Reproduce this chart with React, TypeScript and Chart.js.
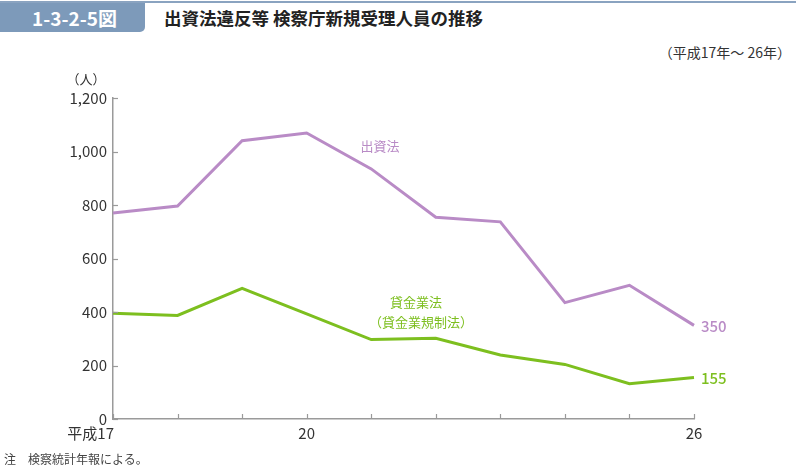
import React, { useEffect, useRef } from 'react';
import { Chart, registerables } from 'chart.js';
Chart.register(...registerables);

const years = ['17', '18', '19', '20', '21', '22', '23', '24', '25', '26'];
const xTickText: Record<string, string> = { '17': '平成17', '20': '20', '26': '26' };
const shusshiho = [770, 796, 1040, 1069, 935, 754, 737, 435, 500, 350];
const kashikin = [395, 387, 488, 393, 297, 302, 239, 204, 132, 155];
const yTicks = [0, 200, 400, 600, 800, 1000, 1200];

const FONT = '"Noto Sans CJK JP", "Noto Sans", sans-serif';
const PURPLE = '#b98bc6';
const GREEN = '#7dbf1f';
const AXIS = '#9a9a9a';

export default function App() {
  const ref = useRef<HTMLCanvasElement | null>(null);

  useEffect(() => {
    if (!ref.current) return;
    const deco = {
      id: 'deco',
      afterDraw(chart: any) {
        const { ctx, chartArea } = chart;
        const xs = chart.scales.x;
        const ys = chart.scales.y;
        ctx.save();
        ctx.strokeStyle = AXIS;
        ctx.lineWidth = 1.2;
        yTicks.forEach((v) => {
          const y = Math.round(ys.getPixelForValue(v)) + 0.5;
          ctx.beginPath();
          ctx.moveTo(chartArea.left, y);
          ctx.lineTo(chartArea.left + 5, y);
          ctx.stroke();
        });
        years.forEach((_, i) => {
          const x = Math.round(xs.getPixelForValue(i)) + 0.5;
          ctx.beginPath();
          ctx.moveTo(x, chartArea.bottom);
          ctx.lineTo(x, chartArea.bottom - 5);
          ctx.stroke();
        });
        ctx.fillStyle = '#333';
        ctx.font = `15px ${FONT}`;
        ctx.textBaseline = 'middle';
        years.forEach((yr, i) => {
          const t = xTickText[yr];
          if (!t) return;
          const x = xs.getPixelForValue(i);
          if (i === 0) {
            ctx.textAlign = 'right';
            ctx.fillText(t, x + 1, chartArea.bottom + 14);
          } else {
            ctx.textAlign = 'center';
            ctx.fillText(t, x, chartArea.bottom + 14);
          }
        });
        ctx.textAlign = 'center';
        ctx.font = `13px ${FONT}`;
        ctx.fillText('（人）', 86, chartArea.top - 19);
        ctx.font = `13px ${FONT}`;
        ctx.fillStyle = PURPLE;
        ctx.fillText('出資法', 380, 146);
        ctx.fillStyle = GREEN;
        ctx.fillText('貸金業法', 416, 302);
        ctx.fillText('（貸金業規制法）', 421, 322);
        const last = years.length - 1;
        const lx = xs.getPixelForValue(last) + 7;
        ctx.textAlign = 'left';
        ctx.font = `500 15px ${FONT}`;
        ctx.fillStyle = PURPLE;
        ctx.fillText(String(shusshiho[last]), lx, ys.getPixelForValue(shusshiho[last]) + 1);
        ctx.fillStyle = GREEN;
        ctx.fillText(String(kashikin[last]), lx, ys.getPixelForValue(kashikin[last]) + 1);
        ctx.restore();
      },
    };

    const chart = new Chart(ref.current, {
      type: 'line',
      data: {
        labels: years,
        datasets: [
          { label: '出資法', data: shusshiho, borderColor: PURPLE, borderWidth: 3, pointRadius: 0, tension: 0, fill: false },
          { label: '貸金業法', data: kashikin, borderColor: GREEN, borderWidth: 3, pointRadius: 0, tension: 0, fill: false },
        ],
      },
      options: {
        animation: false,
        responsive: false,
        events: [],
        layout: { padding: { top: 98, right: 102, left: 0, bottom: 0 } },
        plugins: { legend: { display: false }, tooltip: { enabled: false } },
        scales: {
          x: {
            type: 'category',
            offset: false,
            grid: { display: true, drawOnChartArea: false, drawTicks: false, color: 'rgba(0,0,0,0)' },
            border: { display: true, color: AXIS, width: 1.5 },
            ticks: { display: false },
            afterFit: (s: any) => { s.height = 47; },
          },
          y: {
            min: 0,
            max: 1200,
            grid: { display: true, drawOnChartArea: false, drawTicks: false, color: 'rgba(0,0,0,0)' },
            border: { display: true, color: AXIS, width: 1.5 },
            ticks: {
              stepSize: 200,
              padding: 6,
              color: '#333',
              font: { family: FONT, size: 15 },
              callback: (v: any) => Number(v).toLocaleString('en-US'),
            },
            afterFit: (s: any) => { s.width = 113; },
          },
        },
      },
      plugins: [deco],
    } as any);
    return () => chart.destroy();
  }, []);

  return (
    <div style={{ position: 'absolute', left: 0, top: 0, width: 796, height: 466, background: '#fff', fontFamily: FONT }}>
      <div style={{ position: 'absolute', left: 0, top: 1, width: 796, height: 2, background: '#8aa3c0' }} />
      <div
        style={{
          position: 'absolute', left: 0, top: 3, width: 145, height: 29, background: '#7d9aba',
          borderBottomRightRadius: 5, color: '#fff', fontWeight: 700, fontSize: 19,
          lineHeight: '29px', textAlign: 'center', boxSizing: 'border-box', paddingLeft: 4,
        }}
      >
        1-3-2-5図
      </div>
      <div style={{ position: 'absolute', left: 164, top: 3, height: 29, lineHeight: '29px', fontSize: 17.5, fontWeight: 700, color: '#222', whiteSpace: 'nowrap' }}>
        出資法違反等 検察庁新規受理人員の推移
      </div>
      <div style={{ position: 'absolute', right: 5, top: 42, fontSize: 14, color: '#333', whiteSpace: 'nowrap' }}>
        （平成17年～ 26年）
      </div>
      <canvas ref={ref} width={796} height={466} style={{ position: 'absolute', left: 0, top: 0 }} />
      <div style={{ position: 'absolute', left: 4, top: 450, fontSize: 12, color: '#444', whiteSpace: 'nowrap' }}>
        注　検察統計年報による。
      </div>
    </div>
  );
}
